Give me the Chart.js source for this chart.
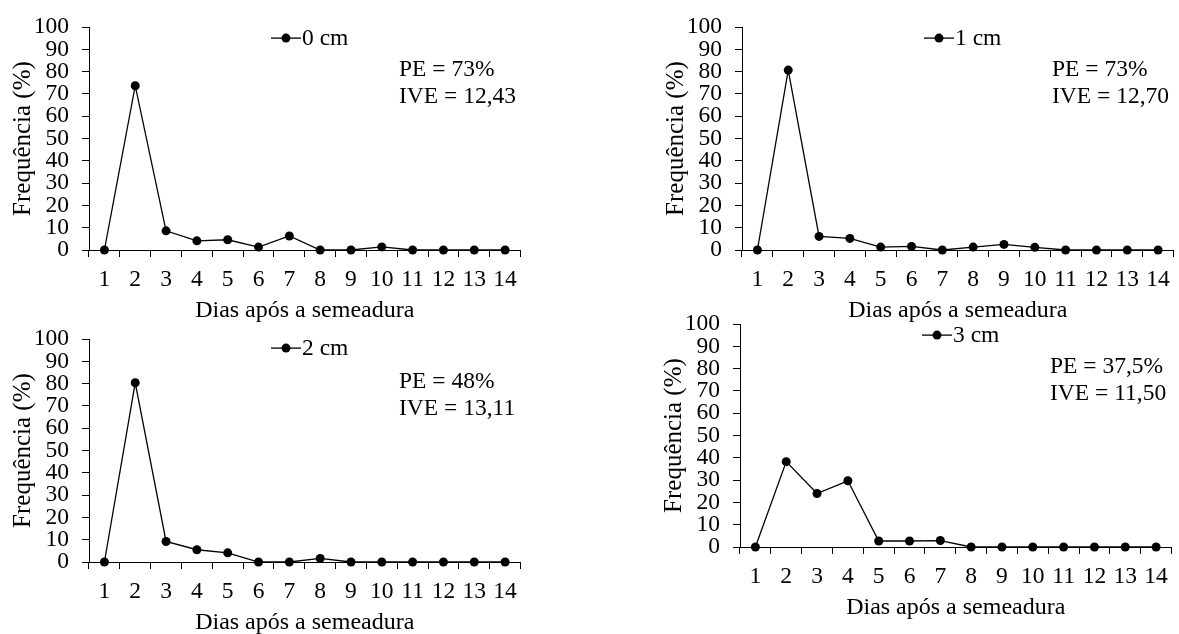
<!DOCTYPE html>
<html><head><meta charset="utf-8">
<script src="https://cdn.jsdelivr.net/npm/chart.js@4"></script>
<style>
html,body{margin:0;padding:0;background:#fff;overflow:hidden;width:1179px;height:634px;}
canvas{position:absolute;}
</style></head><body>
<canvas id="c0" width="526" height="330" style="left:0px;top:0px"></canvas>
<canvas id="c1" width="526" height="330" style="left:653px;top:0px"></canvas>
<canvas id="c2" width="526" height="330" style="left:0px;top:312px"></canvas>
<canvas id="c3" width="526" height="330" style="left:651px;top:297px"></canvas>
<script>
// ---- data ----
const days = ['1','2','3','4','5','6','7','8','9','10','11','12','13','14'];
const seriesNames = ['0 cm','1 cm','2 cm','3 cm'];
const freq0cm = [0, 73.7, 8.6, 4.1, 4.6, 1.3, 6.3, 0, 0, 1.4, 0, 0, 0, 0];
const freq1cm = [0, 80.7, 6.1, 5.2, 1.3, 1.6, 0, 1.3, 2.5, 1.2, 0, 0, 0, 0];
const freq2cm = [0, 80.4, 9.2, 5.5, 4.1, 0, 0, 1.6, 0, 0, 0, 0, 0, 0];
const freq3cm = [0, 38.3, 24.0, 29.7, 2.7, 2.7, 2.9, 0, 0, 0, 0, 0, 0, 0];
const peLabels = ['PE = 73%', 'PE = 73%', 'PE = 48%', 'PE = 37,5%'];
const iveLabels = ['IVE = 12,43', 'IVE = 12,70', 'IVE = 13,11', 'IVE = 11,50'];
const yMin = 0, yMax = 100, yStep = 10;
const xTitle = 'Dias após a semeadura';
const yTitle = 'Frequência (%)';

const allSeries = [freq0cm, freq1cm, freq2cm, freq3cm];
const legendDy = [11, 11, 9, 11];

const FONT = '"Liberation Serif", "Times New Roman", serif';
Chart.defaults.color = '#000';
Chart.defaults.font.family = FONT;
Chart.defaults.font.size = 23.5;

const annot = {
  id: 'annot',
  afterDraw(chart, args, opts) {
    const {ctx, chartArea: a} = chart;
    ctx.save();
    ctx.font = '23.5px ' + FONT;
    ctx.fillStyle = '#000'; ctx.strokeStyle = '#000';
    const lx = a.left + 197, ly = a.top + opts.dy;
    ctx.lineWidth = 1.3;
    ctx.beginPath(); ctx.moveTo(lx - 15, ly); ctx.lineTo(lx + 15, ly); ctx.stroke();
    ctx.beginPath(); ctx.arc(lx, ly, 4.5, 0, 2 * Math.PI); ctx.fill();
    ctx.textBaseline = 'middle'; ctx.textAlign = 'left';
    ctx.fillText(opts.name, lx + 16, ly + 1);
    ctx.fillText(opts.pe, a.left + 310, a.top + 43);
    ctx.fillText(opts.ive, a.left + 310, a.top + 70);
    ctx.restore();
  }
};

allSeries.forEach((vals, i) => {
  new Chart(document.getElementById('c' + i), {
    type: 'line',
    data: {
      labels: days,
      datasets: [{
        label: seriesNames[i],
        data: vals,
        borderColor: '#000',
        backgroundColor: '#000',
        borderWidth: 1.3,
        pointRadius: 4.5,
        pointBorderWidth: 0,
        pointBackgroundColor: '#000',
        tension: 0,
        clip: false
      }]
    },
    options: {
      responsive: false,
      animation: false,
      events: [],
      layout: { padding: { left: 0, top: 22, right: 2, bottom: 0 } },
      plugins: {
        legend: { display: false },
        tooltip: { enabled: false },
        annot: { name: seriesNames[i], pe: peLabels[i], ive: iveLabels[i], dy: legendDy[i] }
      },
      scales: {
        x: {
          offset: true,
          grid: { offset: true, drawOnChartArea: false, drawTicks: true, tickLength: 7, color: '#000', lineWidth: 1 },
          border: { color: '#000', width: 1 },
          ticks: { autoSkip: false, maxRotation: 0, padding: 9, font: { size: 23.5 } },
          title: { display: true, text: xTitle, font: { size: 24 }, padding: { top: 0, bottom: 5 } },
          afterFit: s => { s.height = 80; }
        },
        y: {
          min: yMin, max: yMax,
          grid: { drawOnChartArea: false, drawTicks: true, tickLength: 7, color: '#000', lineWidth: 1 },
          border: { color: '#000', width: 1 },
          ticks: { stepSize: yStep, autoSkip: false, padding: 13, font: { size: 23.5 } },
          title: { display: true, text: yTitle, font: { size: 25 }, padding: { top: 8, bottom: 0 } },
          afterFit: s => { s.width = 89; }
        }
      }
    },
    plugins: [annot]
  });
});
</script>
</body></html>
